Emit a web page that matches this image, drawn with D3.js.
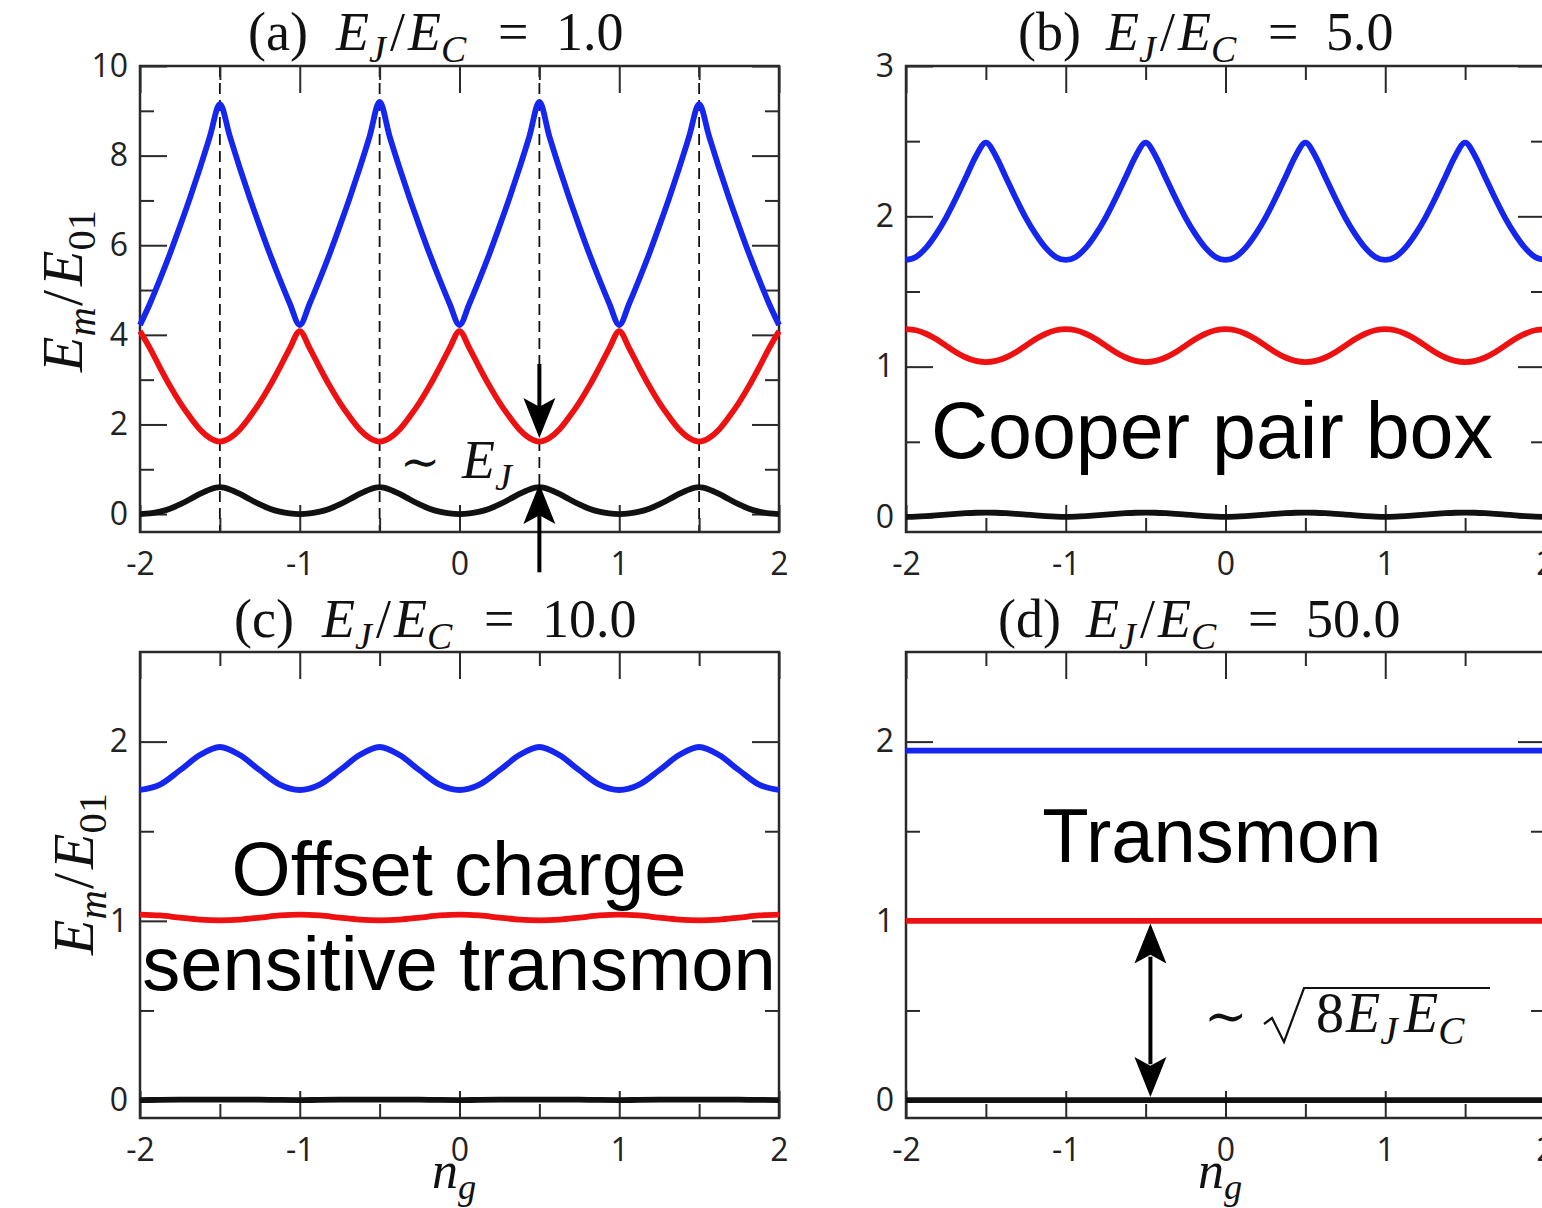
<!DOCTYPE html>
<html>
<head>
<meta charset="utf-8">
<script src="https://cdn.jsdelivr.net/npm/d3@7"></script>
<style>
    body { margin: 0; background: #fff; }
    svg { display: block; }
    .tick line { stroke: #2a2a2a; stroke-width: 2; }
    .tick text { font-family: "Open Sans", "Noto Sans", sans-serif; font-size: 32px; fill: #222; }
    .frame { fill: none; stroke: #2a2a2a; stroke-width: 2.5; }
    text { white-space: pre; }
</style>
</head>
<body>
<svg id="chart" width="1542" height="1208"></svg>
<script>
// offset charge n_g grids
const ng16 = [-2, -1.9375, -1.875, -1.8125, -1.75, -1.6875, -1.625, -1.5625, -1.5, -1.4375, -1.375, -1.3125, -1.25, -1.1875, -1.125, -1.0625,
    -1, -0.9375, -0.875, -0.8125, -0.75, -0.6875, -0.625, -0.5625, -0.5, -0.4375, -0.375, -0.3125, -0.25, -0.1875, -0.125, -0.0625,
    0, 0.0625, 0.125, 0.1875, 0.25, 0.3125, 0.375, 0.4375, 0.5, 0.5625, 0.625, 0.6875, 0.75, 0.8125, 0.875, 0.9375,
    1, 1.0625, 1.125, 1.1875, 1.25, 1.3125, 1.375, 1.4375, 1.5, 1.5625, 1.625, 1.6875, 1.75, 1.8125, 1.875, 1.9375, 2];
const ng8 = [-2, -1.875, -1.75, -1.625, -1.5, -1.375, -1.25, -1.125, -1, -0.875, -0.75, -0.625, -0.5, -0.375, -0.25, -0.125,
    0, 0.125, 0.25, 0.375, 0.5, 0.625, 0.75, 0.875, 1, 1.125, 1.25, 1.375, 1.5, 1.625, 1.75, 1.875, 2];
const ngFlat = [-2, 2];

// (a) EJ/EC = 1.0  (levels m = 0, 1, 2 in units of E01)
const a_E0 = [0, 0.014, 0.054, 0.12, 0.215, 0.33, 0.45, 0.55, 0.6, 0.55, 0.45, 0.33, 0.215, 0.12, 0.054, 0.014,
    0, 0.014, 0.054, 0.12, 0.215, 0.33, 0.45, 0.55, 0.6, 0.55, 0.45, 0.33, 0.215, 0.12, 0.054, 0.014,
    0, 0.014, 0.054, 0.12, 0.215, 0.33, 0.45, 0.55, 0.6, 0.55, 0.45, 0.33, 0.215, 0.12, 0.054, 0.014,
    0, 0.014, 0.054, 0.12, 0.215, 0.33, 0.45, 0.55, 0.6, 0.55, 0.45, 0.33, 0.215, 0.12, 0.054, 0.014, 0];
const a_E1 = [4.08, 3.70, 3.27, 2.86, 2.49, 2.17, 1.89, 1.70, 1.62, 1.70, 1.89, 2.17, 2.49, 2.86, 3.27, 3.70,
    4.08, 3.70, 3.27, 2.86, 2.49, 2.17, 1.89, 1.70, 1.62, 1.70, 1.89, 2.17, 2.49, 2.86, 3.27, 3.70,
    4.08, 3.70, 3.27, 2.86, 2.49, 2.17, 1.89, 1.70, 1.62, 1.70, 1.89, 2.17, 2.49, 2.86, 3.27, 3.70,
    4.08, 3.70, 3.27, 2.86, 2.49, 2.17, 1.89, 1.70, 1.62, 1.70, 1.89, 2.17, 2.49, 2.86, 3.27, 3.70, 4.08];
const a_E2 = [4.22, 4.70, 5.24, 5.81, 6.42, 7.05, 7.72, 8.43, 9.15, 8.43, 7.72, 7.05, 6.42, 5.81, 5.24, 4.70,
    4.22, 4.70, 5.24, 5.81, 6.42, 7.05, 7.72, 8.43, 9.2, 8.43, 7.72, 7.05, 6.42, 5.81, 5.24, 4.70,
    4.22, 4.70, 5.24, 5.81, 6.42, 7.05, 7.72, 8.43, 9.2, 8.43, 7.72, 7.05, 6.42, 5.81, 5.24, 4.70,
    4.22, 4.70, 5.24, 5.81, 6.42, 7.05, 7.72, 8.43, 9.15, 8.43, 7.72, 7.05, 6.42, 5.81, 5.24, 4.70, 4.22];

// (b) EJ/EC = 5.0
const b_E0 = [0, 0.002, 0.006, 0.011, 0.016, 0.021, 0.025, 0.028, 0.029, 0.028, 0.025, 0.021, 0.016, 0.011, 0.006, 0.002,
    0, 0.002, 0.006, 0.011, 0.016, 0.021, 0.025, 0.028, 0.029, 0.028, 0.025, 0.021, 0.016, 0.011, 0.006, 0.002,
    0, 0.002, 0.006, 0.011, 0.016, 0.021, 0.025, 0.028, 0.029, 0.028, 0.025, 0.021, 0.016, 0.011, 0.006, 0.002,
    0, 0.002, 0.006, 0.011, 0.016, 0.021, 0.025, 0.028, 0.029, 0.028, 0.025, 0.021, 0.016, 0.011, 0.006, 0.002, 0];
const b_E1 = [1.25, 1.242, 1.219, 1.184, 1.14, 1.096, 1.061, 1.038, 1.03, 1.038, 1.061, 1.096, 1.14, 1.184, 1.219, 1.242,
    1.25, 1.242, 1.219, 1.184, 1.14, 1.096, 1.061, 1.038, 1.03, 1.038, 1.061, 1.096, 1.14, 1.184, 1.219, 1.242,
    1.25, 1.242, 1.219, 1.184, 1.14, 1.096, 1.061, 1.038, 1.03, 1.038, 1.061, 1.096, 1.14, 1.184, 1.219, 1.242,
    1.25, 1.242, 1.219, 1.184, 1.14, 1.096, 1.061, 1.038, 1.03, 1.038, 1.061, 1.096, 1.14, 1.184, 1.219, 1.242, 1.25];
const b_E2 = [1.71, 1.73, 1.79, 1.88, 1.99, 2.12, 2.26, 2.40, 2.49, 2.40, 2.26, 2.12, 1.99, 1.88, 1.79, 1.73,
    1.71, 1.73, 1.79, 1.88, 1.99, 2.12, 2.26, 2.40, 2.49, 2.40, 2.26, 2.12, 1.99, 1.88, 1.79, 1.73,
    1.71, 1.73, 1.79, 1.88, 1.99, 2.12, 2.26, 2.40, 2.49, 2.40, 2.26, 2.12, 1.99, 1.88, 1.79, 1.73,
    1.71, 1.73, 1.79, 1.88, 1.99, 2.12, 2.26, 2.40, 2.49, 2.40, 2.26, 2.12, 1.99, 1.88, 1.79, 1.73, 1.71];

// (c) EJ/EC = 10.0
const c_E0 = [0, 0.001, 0.002, 0.003, 0.003, 0.003, 0.002, 0.001, 0, 0.001, 0.002, 0.003, 0.003, 0.003, 0.002, 0.001,
    0, 0.001, 0.002, 0.003, 0.003, 0.003, 0.002, 0.001, 0, 0.001, 0.002, 0.003, 0.003, 0.003, 0.002, 0.001, 0];
const c_E1 = [1.035, 1.03, 1.018, 1.007, 1.003, 1.007, 1.018, 1.03, 1.035, 1.03, 1.018, 1.007, 1.003, 1.007, 1.018, 1.03,
    1.035, 1.03, 1.018, 1.007, 1.003, 1.007, 1.018, 1.03, 1.035, 1.03, 1.018, 1.007, 1.003, 1.007, 1.018, 1.03, 1.035];
const c_E2 = [1.73, 1.76, 1.84, 1.925, 1.97, 1.925, 1.84, 1.76, 1.73, 1.76, 1.84, 1.925, 1.97, 1.925, 1.84, 1.76,
    1.73, 1.76, 1.84, 1.925, 1.97, 1.925, 1.84, 1.76, 1.73, 1.76, 1.84, 1.925, 1.97, 1.925, 1.84, 1.76, 1.73];

// (d) EJ/EC = 50.0 (flat bands)
const d_E0 = [0, 0];
const d_E1 = [1.0, 1.0];
const d_E2 = [1.95, 1.95];

const panelTags = ['(a)', '(b)', '(c)', '(d)'];
const ratioLabels = ['1.0', '5.0', '10.0', '50.0'];
const xMajor = [-2, -1, 0, 1, 2];
const xMinor = [-1.5, -0.5, 0.5, 1.5];
const yMajorA = [0, 2, 4, 6, 8, 10], yMinorA = [1, 3, 5, 7, 9];
const yMajorB = [0, 1, 2, 3], yMinorB = [0.5, 1.5, 2.5];
const yMajorCD = [0, 1, 2], yMinorCD = [0.5, 1.5];
const dashedNg = [-1.5, -0.5, 0.5, 1.5];
const levelColors = ['#111111', '#ee1111', '#1526ee'];

const serif = '"Liberation Serif", "DejaVu Serif", serif';
const sans = '"Liberation Sans", Arial, sans-serif';

var svg = d3.select('#chart');
svg.append('rect').attr('width', 1542).attr('height', 1208).attr('fill', '#fff');

var panels = [
    {left: 140, right: 779, top: 66, bottom: 532, yDomain: [-0.4, 10], yMajor: yMajorA, yMinor: yMinorA,
     ng: ng16, levels: [a_E0, a_E1, a_E2], titleX: 248, titleY: 50},
    {left: 906, right: 1545, top: 66, bottom: 532, yDomain: [-0.1, 3], yMajor: yMajorB, yMinor: yMinorB,
     ng: ng16, levels: [b_E0, b_E1, b_E2], titleX: 1018, titleY: 50},
    {left: 140, right: 779, top: 652, bottom: 1118, yDomain: [-0.1, 2.5], yMajor: yMajorCD, yMinor: yMinorCD,
     ng: ng8, levels: [c_E0, c_E1, c_E2], titleX: 234, titleY: 637},
    {left: 906, right: 1545, top: 652, bottom: 1118, yDomain: [-0.1, 2.5], yMajor: yMajorCD, yMinor: yMinorCD,
     ng: ngFlat, levels: [d_E0, d_E1, d_E2], titleX: 998, titleY: 637}
];

function noDomain(g) { g.select('.domain').remove(); }

// math-ish text: parts with italic / subscript flags, optional fixed offset "at"
function mathText(sel, x, y, size, parts, anchor) {
    var t = sel.append('text')
        .attr('x', x).attr('y', y)
        .attr('font-family', serif)
        .attr('font-size', size)
        .attr('text-anchor', anchor || 'start')
        .attr('fill', '#111');
    var shift = 0;
    parts.forEach(function (p) {
        var ts = t.append('tspan').text(p.t);
        if (p.at !== undefined) ts.attr('x', x + p.at);
        if (p.i) ts.attr('font-style', 'italic');
        if (p.size) ts.attr('font-size', p.size);
        var target = p.sub ? size * 0.22 : 0;
        if (target !== shift) { ts.attr('dy', target - shift); shift = target; }
        if (p.sub) ts.attr('font-size', size * 0.7);
    });
    return t;
}

function arrowHead(g, x, tipY, dir) {
    // dir = +1 points down, -1 points up
    var len = 40, half = 16;
    g.append('path')
        .attr('d', `M${x},${tipY} L${x - half},${tipY - dir * len} L${x},${tipY - dir * len * 0.78} L${x + half},${tipY - dir * len} Z`)
        .attr('fill', '#000');
}

var scales = panels.map(function (p, i) {
    var x = d3.scaleLinear().domain([-2, 2]).range([p.left, p.right]);
    var y = d3.scaleLinear().domain(p.yDomain).range([p.bottom, p.top]);
    var g = svg.append('g').attr('class', 'panel');

    if (i === 0) {
        g.selectAll('.dash').data(dashedNg).enter().append('line')
            .attr('x1', function (d) { return x(d); }).attr('x2', function (d) { return x(d); })
            .attr('y1', p.top).attr('y2', p.bottom)
            .attr('stroke', '#111').attr('stroke-width', 1.8).attr('stroke-dasharray', '11,6');
    }

    // ticks on all four sides, pointing inward
    g.append('g').attr('transform', `translate(0,${p.bottom})`)
        .call(d3.axisBottom(x).tickValues(xMajor).tickSize(-27).tickPadding(20).tickFormat(function (d) { return String(d); }))
        .call(noDomain);
    g.append('g').attr('transform', `translate(0,${p.bottom})`)
        .call(d3.axisBottom(x).tickValues(xMinor).tickSize(-14).tickFormat(''))
        .call(noDomain);
    g.append('g').attr('transform', `translate(0,${p.top})`)
        .call(d3.axisTop(x).tickValues(xMajor).tickSize(-27).tickFormat(''))
        .call(noDomain);
    g.append('g').attr('transform', `translate(0,${p.top})`)
        .call(d3.axisTop(x).tickValues(xMinor).tickSize(-14).tickFormat(''))
        .call(noDomain);
    g.append('g').attr('transform', `translate(${p.left},0)`)
        .call(d3.axisLeft(y).tickValues(p.yMajor).tickSize(-27).tickPadding(12).tickFormat(function (d) { return String(d); }))
        .call(noDomain);
    g.append('g').attr('transform', `translate(${p.left},0)`)
        .call(d3.axisLeft(y).tickValues(p.yMinor).tickSize(-14).tickFormat(''))
        .call(noDomain);
    g.append('g').attr('transform', `translate(${p.right},0)`)
        .call(d3.axisRight(y).tickValues(p.yMajor).tickSize(-27).tickFormat(''))
        .call(noDomain);
    g.append('g').attr('transform', `translate(${p.right},0)`)
        .call(d3.axisRight(y).tickValues(p.yMinor).tickSize(-14).tickFormat(''))
        .call(noDomain);

    g.append('rect').attr('class', 'frame')
        .attr('x', p.left).attr('y', p.top)
        .attr('width', p.right - p.left).attr('height', p.bottom - p.top);

    var line = d3.line()
        .x(function (d) { return x(d[0]); })
        .y(function (d) { return y(d[1]); })
        .curve(d3.curveMonotoneX);

    p.levels.forEach(function (vals, m) {
        g.append('path')
            .datum(p.ng.map(function (n, k) { return [n, vals[k]]; }))
            .attr('d', line)
            .attr('fill', 'none')
            .attr('stroke', levelColors[m])
            .attr('stroke-width', 5.8)
            .attr('stroke-linejoin', 'round');
    });

    // title
    mathText(svg, p.titleX, p.titleY, 54, [
        {t: panelTags[i]}, {t: 'E', i: 1, at: 88}, {t: 'J', i: 1, sub: 1}, {t: '/', at: 142},
        {t: 'E', i: 1, at: 160}, {t: 'C', i: 1, sub: 1}, {t: '=', at: 250}, {t: ratioLabels[i], at: 308}
    ]);
    return {x: x, y: y};
});

// y axis labels (rotated, read bottom to top)
[[82, 372], [93, 955]].forEach(function (pos) {
    var t = mathText(svg, 0, 0, 58, [
        {t: 'E', i: 1}, {t: 'm', i: 1, sub: 1}, {t: '/', at: 66}, {t: 'E', i: 1, at: 86}, {t: '01', sub: 1}
    ]);
    t.attr('transform', `translate(${pos[0]},${pos[1]}) rotate(-90)`);
});
// x axis labels
[432, 1198].forEach(function (x0) {
    mathText(svg, x0, 1188, 52, [{t: 'n', i: 1}, {t: 'g', i: 1, sub: 1}]);
});

// (a) annotation: ~E_J between m=0 and m=1 at n_g = 1/2
var sa = scales[0];
var ann = svg.append('g');
ann.append('line').attr('x1', sa.x(0.5)).attr('x2', sa.x(0.5))
    .attr('y1', sa.y(3.35)).attr('y2', sa.y(2.3)).attr('stroke', '#000').attr('stroke-width', 4);
arrowHead(ann, sa.x(0.5), sa.y(1.70), 1);
ann.append('line').attr('x1', sa.x(0.5)).attr('x2', sa.x(0.5))
    .attr('y1', sa.y(-1.3)).attr('y2', sa.y(0.2)).attr('stroke', '#000').attr('stroke-width', 4);
arrowHead(ann, sa.x(0.5), sa.y(0.67), -1);
mathText(ann, 400, 478, 54, [{t: '\u223C', size: 48}, {t: 'E', i: 1, at: 62}, {t: 'J', i: 1, sub: 1}]);

// (d) annotation: plasma frequency gap
var sd = scales[3];
var xd = sd.x(-0.47);
ann.append('line').attr('x1', xd).attr('x2', xd)
    .attr('y1', sd.y(0.8)).attr('y2', sd.y(0.2)).attr('stroke', '#000').attr('stroke-width', 4);
arrowHead(ann, xd, sd.y(0.985), -1);
arrowHead(ann, xd, sd.y(0.017), 1);
ann.append('text').attr('x', 1204).attr('y', 1034)
    .attr('font-family', serif).attr('font-size', 52).attr('fill', '#111').text('\u223C');
var rad = mathText(ann, 1316, 1032, 56, [
    {t: '8'}, {t: 'E', i: 1, at: 30}, {t: 'J', i: 1, sub: 1}, {t: 'E', i: 1, at: 88}, {t: 'C', i: 1, sub: 1}
]);
var rb = rad.node().getBBox();
var radEnd = Math.max(rb.x + rb.width + 4, 1490);
ann.append('path')
    .attr('d', `M1264,1024 L1272,1018 L1284,1042 L1304,988 L${radEnd},988`)
    .attr('fill', 'none').attr('stroke', '#111').attr('stroke-width', 2.2);

// regime labels
var labels = [
    {t: 'Cooper pair box', x: 1212, y: 458, size: 79},
    {t: 'Offset charge', x: 459, y: 895, size: 76},
    {t: 'sensitive transmon', x: 459, y: 990, size: 76},
    {t: 'Transmon', x: 1212, y: 862, size: 76}
];
svg.selectAll('.regime').data(labels).enter().append('text')
    .attr('class', 'regime')
    .attr('x', function (d) { return d.x; })
    .attr('y', function (d) { return d.y; })
    .attr('text-anchor', 'middle')
    .attr('font-family', sans)
    .attr('font-size', function (d) { return d.size; })
    .attr('fill', '#000')
    .text(function (d) { return d.t; });
</script>
</body>
</html>
